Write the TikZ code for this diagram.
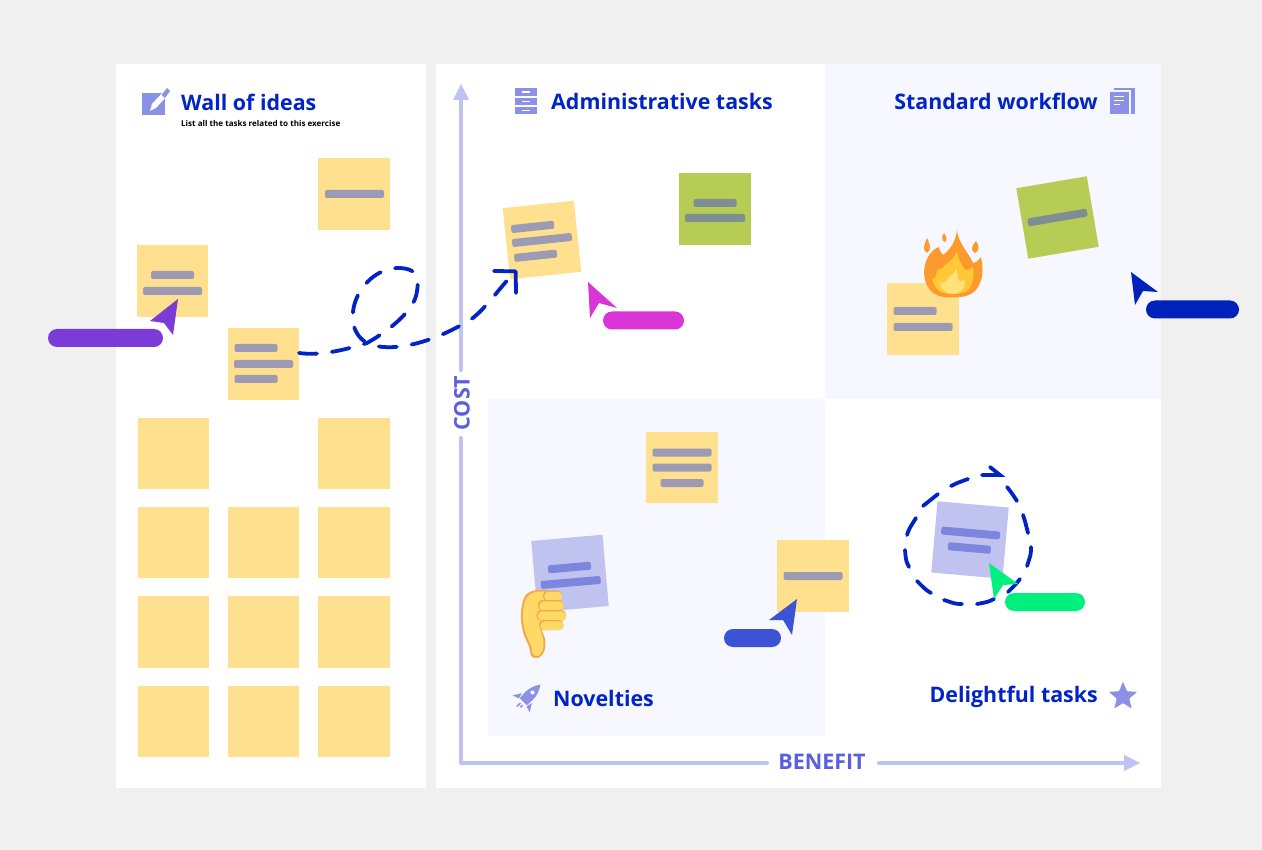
\documentclass[tikz,border=0pt]{standalone}
\usepackage{fontspec}
\setmainfont{Open Sans}
\usetikzlibrary{arrows.meta,shapes.geometric}
\definecolor{pagebg}{HTML}{F0F0F0}
\definecolor{quad}{HTML}{F6F7FF}
\definecolor{ink}{HTML}{0224C6}
\definecolor{axisc}{HTML}{C0C2F2}
\definecolor{axist}{HTML}{5B5FDC}
\definecolor{icon}{HTML}{8C91E8}
\definecolor{noteY}{HTML}{FFE08F}
\definecolor{barY}{HTML}{9D9AB4}
\definecolor{noteG}{HTML}{B7CC55}
\definecolor{barG}{HTML}{7E8F93}
\definecolor{noteP}{HTML}{C0C2F0}
\definecolor{barP}{HTML}{7D86DE}
\definecolor{curA}{HTML}{7C3BD6}
\definecolor{curB}{HTML}{DA35D6}
\definecolor{curC}{HTML}{0022BB}
\definecolor{curD}{HTML}{00F080}
\definecolor{curE}{HTML}{3B54D6}
\definecolor{thumbF}{HTML}{FFD966}
\definecolor{thumbL}{HTML}{F2A94E}
\definecolor{fireA}{HTML}{FD9A2E}
\definecolor{fireB}{HTML}{FFC936}
\definecolor{fireC}{HTML}{FFE27A}
\tikzset{
  panel/.style={fill=white,draw=none},
  sticky/.style={rectangle,minimum size=71.5pt,inner sep=0pt,draw=none},
  barbox/.style={rectangle,rounded corners=2pt,minimum height=8pt,inner sep=0pt,draw=none},
  pill/.style={rectangle,rounded corners=9pt,minimum height=18pt,inner sep=0pt,draw=none},
  title/.style={text=ink,font=\bfseries\fontsize{21.4}{26}\selectfont,inner sep=0pt,anchor=west},
  axisline/.style={axisc,line width=4pt,line cap=round},
  axislabel/.style={text=axist,font=\bfseries\fontsize{21.5}{25}\selectfont,inner sep=0pt},
  flow/.style={ink,line width=3.8pt,line cap=round},
}
% name, x, y, rotation, note colour, bar colour, bars (dx/dy/width)
\newcommand{\stickynote}[7]{%
  \begin{scope}[shift={(#2,#3)},rotate=#4,transform shape]
    \node[sticky,fill=#5] (#1) at (0,0) {};
    \foreach \bx/\by/\bw in {#7}{\node[barbox,fill=#6,minimum width=\bw pt] at (\bx,\by) {};}
  \end{scope}}
\newcommand{\plainnote}[3]{\node[sticky,fill=noteY] (#1) at (#2,#3) {};}
\begin{document}
\begin{tikzpicture}[x=1pt,y=-1pt]
\useasboundingbox (0,0) rectangle (1262,850);
\fill[pagebg] (0,0) rectangle (1262,850);
\fill[panel] (116,64) rectangle (426,788);
\fill[panel] (436,64) rectangle (1161,788);
\fill[quad] (825,64) rectangle (1161,399);
\fill[quad] (488,399) rectangle (825,736);

% axes
\draw[axisline] (461,370) -- (461,96);
\fill[axisc] (461,84) -- (469,100) -- (453,100) -- cycle;
\draw[axisline,line join=round] (461,438) -- (461,763) -- (767,763);
\draw[axisline] (879,763) -- (1126,763);
\fill[axisc] (1140,763) -- (1124,755) -- (1124,771) -- cycle;
\node[axislabel,rotate=90] (cost) at (462,403) {COST};
\node[axislabel] (benefit) at (822,762) {BENEFIT};

% titles
\node[title] (t1) at (181,102) {Wall of ideas};
\node[text=black,font=\bfseries\fontsize{8.05}{10}\selectfont,inner sep=0pt,anchor=west] (t1b) at (181,123) {List all the tasks related to this exercise};
\node[title] (t2) at (551,101) {Administrative tasks};
\node[title,anchor=east] (t3) at (1098,101) {Standard workflow};
\node[title] (t4) at (553,698) {Novelties};
\node[title,anchor=east] (t5) at (1098,697) {Delightful tasks};

% icons
\fill[icon] (142,93) rectangle (165,115);
\fill[white] (150,111) -- (152,104) -- (163,92) -- (167,96) -- (156,108) -- cycle;
\fill[icon] (161.5,95) -- (167,88) -- (170,91) -- (165,98) -- cycle;
\foreach \cy in {92,101.5,110.5}{
  \fill[icon] (515,\cy-3.8) rectangle (537,\cy+3.8);
  \draw[white,line width=1.2pt] (522,\cy) -- (530,\cy);}
\fill[icon] (1114,88) rectangle (1135,114);
\fill[quad] (1109,90.5) rectangle (1130.5,114);
\fill[icon] (1110,92) rectangle (1129,114);
\foreach \ly/\lx in {97/1124,101/1124,105/1120}{\draw[white,line width=1pt] (1114,\ly) -- (\lx,\ly);}
\node[star,star points=5,star point ratio=2.3,fill=icon,inner sep=0pt,minimum size=30pt,rounded corners=1pt] (starico) at (1123,696.5) {};
\begin{scope}[shift={(529,696)},rotate=45]
  \fill[icon] (-8,-5) -- (1,-5.5) .. controls (7,-5) and (12,-3) .. (16,0) .. controls (12,3) and (7,5) .. (1,5.5) -- (-8,5) -- cycle;
  \fill[white] (5,0) circle (2pt);
  \fill[icon] (-3,-7) -- (-11,-12) -- (-9,-5.5) -- cycle;
  \fill[icon] (-3,7) -- (-11,12) -- (-9,5.5) -- cycle;
  \draw[icon,line width=1.6pt] (-11,-1) -- (-16,-1);
  \draw[icon,line width=1.6pt] (-11,2) -- (-14,2);
\end{scope}

% wall of ideas notes
\stickynote{w1}{354}{194}{0}{noteY}{barY}{0.5/0/59}
\stickynote{w2}{172.5}{281}{0}{noteY}{barY}{0/-6/43,0/10/59}
\stickynote{w3}{263.5}{364}{0}{noteY}{barY}{-7.5/-16/43,0/0/59,-7.5/15/43}
\plainnote{w4}{173.5}{453.5}
\plainnote{w5}{354}{453.5}
\plainnote{w6}{173.5}{542.5}
\plainnote{w7}{263.5}{542.5}
\plainnote{w8}{354}{542.5}
\plainnote{w9}{173.5}{632}
\plainnote{w10}{263.5}{632}
\plainnote{w11}{354}{632}
\plainnote{w12}{173.5}{721.5}
\plainnote{w13}{263.5}{721.5}
\plainnote{w14}{354}{721.5}

% board notes
\stickynote{a1}{542}{240}{6}{noteY}{barY}{-8/-14/43,0/0/60,-8/15/43}
\stickynote{a2}{715}{209}{0}{noteG}{barG}{0/-6/43,0/9/60}
\stickynote{s1}{1057.5}{217.5}{9.6}{noteG}{barG}{0/0/60}
\stickynote{s2}{923}{319}{0}{noteY}{barY}{-8/-8/43,0/8/59}
\stickynote{n1}{682}{467.5}{0}{noteY}{barY}{0/-15/59,0/0/59,0/15.5/43}
\stickynote{n2}{570}{573.5}{5}{noteP}{barP}{0/-6/43,0/9/60}
\stickynote{n3}{813}{576}{0}{noteY}{barY}{0/0/59}
\stickynote{d1}{970}{540}{-5}{noteP}{barP}{0/-7/59,0/8/43}

% connector from the wall to the board
\coordinate (start) at (299,353);
\coordinate (bend1) at (367,343);
\coordinate (bend2) at (416,296);
\coordinate (bend3) at (398,268);
\coordinate (bend4) at (353,312);
\coordinate (bend5) at (395,347);
\coordinate (bend6) at (470,320);
\coordinate (tip) at (517,270);
\draw[flow,dash pattern=on 18pt off 15pt,-{Straight Barb[length=15pt,width=31pt,round]}]
  (start) .. controls (320,356) and (345,350) .. (bend1)
  .. controls (385,333) and (411,314) .. (bend2)
  .. controls (421,275) and (415,268) .. (bend3)
  .. controls (375,268) and (355,290) .. (bend4)
  .. controls (351,330) and (360,339) .. (bend1)
  .. controls (372,346) and (385,348) .. (bend5)
  .. controls (420,345) and (445,335) .. (bend6)
  .. controls (485,310) and (500,287) .. (tip);

% dashed ring round the delightful note
\draw[flow]
  (982,475) -- (1000,475) -- (990,467)
  (1007,487) .. controls (1011,492) .. (1017,501)
  (1023,515) .. controls (1025,521) .. (1028,533)
  (1031,547) .. controls (1031,554) .. (1027,566)
  (1020,579) .. controls (1016,584) .. (1008,592)
  (994,599) .. controls (988,602) .. (977,604)
  (962,604) .. controls (956,604) .. (944,600)
  (931,593) .. controls (926,590) .. (917,581)
  (909,567) .. controls (906,561) .. (905,550)
  (907,535) .. controls (909,529) .. (916,518)
  (923,506) .. controls (928,502) .. (938,494)
  (951,486) .. controls (957,483) .. (968,479);

% emoji: fire
\fill[fireA] (927,238) .. controls (924,245) and (922,250) .. (927,253) .. controls (932,250) and (930,244) .. (927,238) -- cycle;
\fill[fireA] (944,233) .. controls (941,237) and (942,241) .. (945,242) .. controls (948,240) and (946,236) .. (944,233) -- cycle;
\fill[fireA] (976,241) .. controls (972,245) and (970,251) .. (975,253) .. controls (980,251) and (979,245) .. (976,241) -- cycle;
\fill[fireA] (957,230) .. controls (958,240) and (964,248) .. (968,254) .. controls (971,258) and (972,262) .. (973,263)
  .. controls (977,262) and (979,260) .. (981,257) .. controls (984,270) and (983,282) .. (975,291)
  .. controls (968,297) and (960,297.5) .. (953,297.5) .. controls (945,297.5) and (936,297) .. (930,290)
  .. controls (922,280) and (923,266) .. (928,257) .. controls (931,252) and (935,248) .. (939,247)
  .. controls (939,250) and (941,253) .. (943,255) .. controls (950,250) and (956,241) .. (957,230) -- cycle;
\fill[fireB] (957,251) .. controls (957,258) and (962,265) .. (965,270) .. controls (968,270) and (971,269) .. (973,267)
  .. controls (974,276) and (973,285) .. (968,290) .. controls (962,295.5) and (945,295.5) .. (938,290)
  .. controls (935,287) and (933,283) .. (932,279) .. controls (936,279) and (937,274) .. (937,270)
  .. controls (940,270) and (943,268) .. (945,265) .. controls (950,262) and (955,257) .. (957,251) -- cycle;
\fill[fireC] (957,268) .. controls (957,273) and (958,278) .. (959,281) .. controls (961,281) and (963,281) .. (965,280)
  .. controls (966,287) and (962,292) .. (955,294) .. controls (948,294.5) and (941,291) .. (940,283)
  .. controls (944,283) and (947,281) .. (948,277) .. controls (952,276) and (955,272) .. (957,268) -- cycle;

% emoji: thumb down
\fill[thumbL] (547,590) .. controls (535,589) and (527,591) .. (524,598) .. controls (520,608) and (520,620) .. (523,632)
  .. controls (525,640) and (530,645) .. (530,652) .. controls (530,657) and (534,658.5) .. (538,658)
  .. controls (544,656) and (546,648) .. (545.5,642) .. controls (545,636) and (542,632) .. (541,628) -- (555,600) -- cycle;
\fill[thumbF] (547,591.5) .. controls (535,591) and (529,593) .. (526,599) .. controls (522,608) and (522,620) .. (525,631)
  .. controls (527,639) and (532,644) .. (532,652) .. controls (532,655) and (535,656.5) .. (538,656)
  .. controls (542,654) and (544,648) .. (543.5,642) .. controls (543,636) and (541,632) .. (539.5,628) -- (555,600) -- cycle;
\foreach \xa/\xb/\ya/\yb in {543/562/590.5/601,538/563.5/600/611,536.5/566/610/621,539/563.5/620/630}{
  \fill[thumbL,rounded corners=4.5pt] (\xa,\ya) rectangle (\xb,\yb);
  \fill[thumbF,rounded corners=4pt] (\xa+1.4,\ya+1.4) rectangle (\xb,\yb);
}

% cursors and their pills
\node[pill,fill=curA,minimum width=115pt] (pa) at (105.5,338) {};
\fill[curA] (178,299) -- (150,321) -- (164,323) -- (173,335) -- cycle;
\node[pill,fill=curB,minimum width=81pt] (pb) at (643.5,320.5) {};
\fill[curB] (588,282) -- (617,308) -- (599,303) -- (590,318) -- cycle;
\node[pill,fill=curC,minimum width=93pt] (pc) at (1192.5,309.5) {};
\fill[curC] (1131,272) -- (1158,292) -- (1143,291) -- (1135,305) -- cycle;
\node[pill,fill=curD,minimum width=80pt] (pd) at (1045,602) {};
\fill[curD] (989,563) -- (1018,584) -- (1003,585) -- (994,599) -- cycle;
\node[pill,fill=curE,minimum width=57pt] (pe) at (752.5,638) {};
\fill[curE] (797,599) -- (769,620) -- (783,620) -- (792,635) -- cycle;
\end{tikzpicture}
\end{document}
